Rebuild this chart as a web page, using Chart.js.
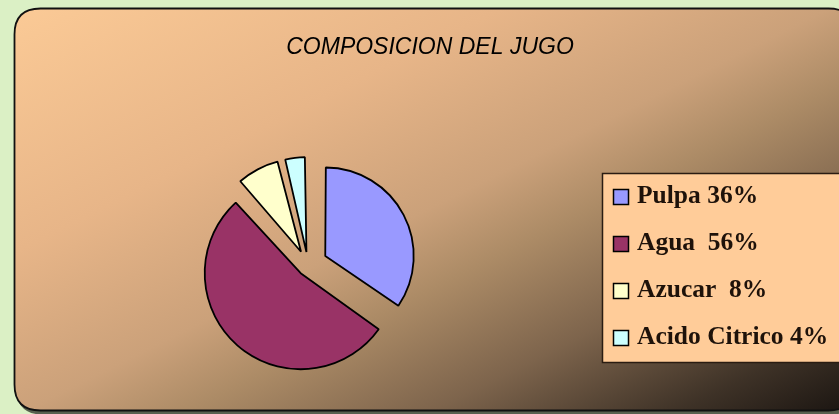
<!DOCTYPE html>
<html>
<head>
<meta charset="utf-8">
<script src="https://cdn.jsdelivr.net/npm/chart.js@4"></script>
<style>
  html, body { margin: 0; padding: 0; background: #DBF0C5; }
  #wrap { width: 839px; height: 414px; }
</style>
</head>
<body>
<div id="wrap"><canvas id="myChart" width="839" height="414"></canvas></div>
<script>
// data
const categorias = ['Pulpa', 'Agua', 'Azucar', 'Acido Citrico'];
const valores = [36, 56, 8, 4];
const etiquetasLeyenda = ['Pulpa 36%', 'Agua  56%', 'Azucar  8%', 'Acido Citrico 4%'];
const colores = ['#9999FF', '#993366', '#FFFFCC', '#CCFFFF'];
const titulo = 'COMPOSICION DEL JUGO';

function roundRect(ctx, x, y, w, h, r) {
  ctx.beginPath();
  ctx.moveTo(x + r, y);
  ctx.lineTo(x + w - r, y);
  ctx.quadraticCurveTo(x + w, y, x + w, y + r);
  ctx.lineTo(x + w, y + h - r);
  ctx.quadraticCurveTo(x + w, y + h, x + w - r, y + h);
  ctx.lineTo(x + r, y + h);
  ctx.quadraticCurveTo(x, y + h, x, y + h - r);
  ctx.lineTo(x, y + r);
  ctx.quadraticCurveTo(x, y, x + r, y);
  ctx.closePath();
}

// background panel + title
const fondo = {
  id: 'fondo',
  beforeDraw(chart) {
    const ctx = chart.ctx;
    ctx.save();
    ctx.fillStyle = '#DBF0C5';
    ctx.fillRect(0, 0, chart.width, chart.height);

    // soft shadow on the lower left
    roundRect(ctx, 16.5, 11.5, 840, 403, 26);
    ctx.fillStyle = 'rgba(0,0,0,0.6)';
    ctx.fill();

    const g = ctx.createLinearGradient(14, 8, 340.6, 661.2);
    g.addColorStop(0, '#FBCA96');
    g.addColorStop(0.3, '#E7B588');
    g.addColorStop(0.5, '#CBA17A');
    g.addColorStop(0.6, '#AC8B66');
    g.addColorStop(0.75, '#7D644C');
    g.addColorStop(0.9, '#3E3227');
    g.addColorStop(1, '#1C1612');
    roundRect(ctx, 14.5, 8.5, 840, 402, 26);
    ctx.fillStyle = g;
    ctx.fill();
    ctx.lineWidth = 1.8;
    ctx.strokeStyle = '#111';
    ctx.stroke();

    ctx.fillStyle = '#000';
    ctx.font = 'italic 23px "Liberation Sans", Arial, sans-serif';
    ctx.textAlign = 'center';
    ctx.textBaseline = 'alphabetic';
    ctx.fillText(titulo, 430, 54);
    ctx.restore();
  },
  afterDraw(chart) {
    // legend box
    const ctx = chart.ctx;
    const ds = chart.data.datasets[0];
    ctx.save();
    ctx.fillStyle = '#FFCC99';
    ctx.fillRect(602.5, 173.5, 260, 189);
    ctx.lineWidth = 1.5;
    ctx.strokeStyle = '#2A1C12';
    ctx.strokeRect(602.5, 173.5, 260, 189);

    ctx.font = 'bold 25.5px "Liberation Serif", "Times New Roman", serif';
    ctx.textAlign = 'left';
    ctx.textBaseline = 'alphabetic';
    etiquetasLeyenda.forEach((t, i) => {
      const top = 189 + i * 47;
      ctx.fillStyle = ds.backgroundColor[i];
      ctx.fillRect(613.5, top + 0.5, 15, 15);
      ctx.lineWidth = 1.5;
      ctx.strokeStyle = '#000';
      ctx.strokeRect(613.5, top + 0.5, 15, 15);
      ctx.fillStyle = '#1E120A';
      ctx.fillText(t, 637, top + 14);
    });
    ctx.restore();
  }
};

const config = {
  type: 'pie',
  data: {
    labels: categorias,
    datasets: [{
      data: valores,
      backgroundColor: colores,
      borderColor: '#000',
      borderWidth: 1.8,
      offset: [78, 44, 60, 52],
      radius: 85
    }]
  },
  options: {
    responsive: false,
    animation: false,
    layout: { padding: { left: 208, right: 431, top: 165, bottom: 49 } },
    plugins: {
      legend: { display: false },
      title: { display: false },
      tooltip: { enabled: false }
    }
  },
  plugins: [fondo]
};

const myChart = new Chart(document.getElementById('myChart'), config);
</script>
</body>
</html>
